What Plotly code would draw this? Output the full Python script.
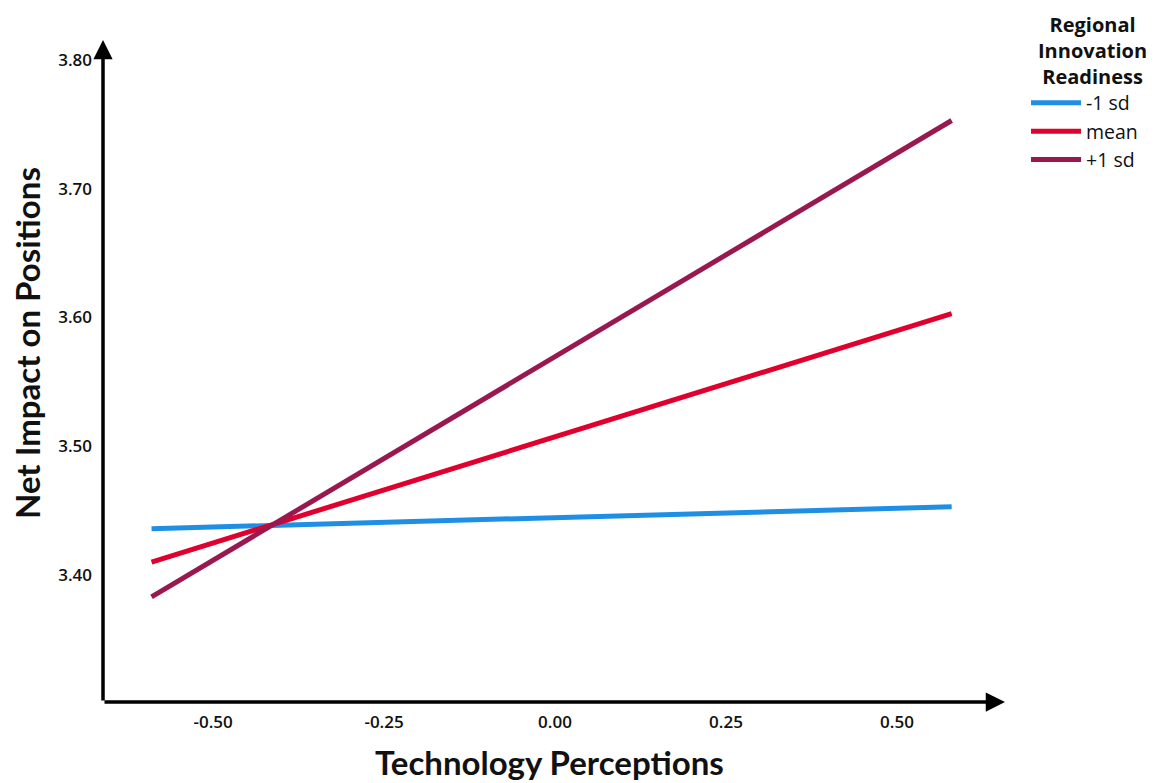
import plotly.graph_objects as go

x_ends = [-0.59, 0.58]
series_names = ["-1 sd", "mean", "+1 sd"]
series_values = [
    [3.436, 3.453],
    [3.410, 3.603],
    [3.383, 3.753],
]
colors = ["#1f8fe6", "#e0002d", "#9a1850"]
x_ticks = [-0.50, -0.25, 0.00, 0.25, 0.50]
x_tick_labels = ["-0.50", "-0.25", "0.00", "0.25", "0.50"]
y_ticks = [3.40, 3.50, 3.60, 3.70, 3.80]
y_tick_labels = ["3.40", "3.50", "3.60", "3.70", "3.80"]
legend_title_lines = ["Regional", "Innovation", "Readiness"]

XMIN, XMAX = -0.661, 0.658
YMIN, YMAX = 3.3014, 3.8155

# the page body has an 8px margin; figure is sized/placed to compensate
fig = go.Figure()
for name, vals, col in zip(series_names, series_values, colors):
    fig.add_trace(go.Scatter(x=x_ends, y=vals, mode="lines", name=name,
                             line=dict(color=col, width=5)))

title_font = "Lato, 'Noto Sans', sans-serif"
tick_font = "'Open Sans', 'Noto Sans', sans-serif"

fig.update_layout(
    width=1162, height=775,
    margin=dict(l=95, r=165, t=32, b=81),
    plot_bgcolor="white", paper_bgcolor="white",
    font=dict(family=tick_font, color="#111"),
    showlegend=True,
    legend=dict(x=1.0233, y=0.934, xanchor="left", yanchor="top",
                font=dict(size=19.5, color="#111", family=tick_font),
                tracegroupgap=0, itemwidth=50, bgcolor="rgba(0,0,0,0)"),
    xaxis=dict(range=[XMIN, XMAX], tickvals=x_ticks, ticktext=x_tick_labels,
               showgrid=False, zeroline=False, showline=False, ticks="",
               automargin=False, ticklabelstandoff=8,
               tickfont=dict(size=17, color="#111", family=tick_font, weight=600)),
    yaxis=dict(range=[YMIN, YMAX], tickvals=y_ticks, ticktext=y_tick_labels,
               showgrid=False, zeroline=False, showline=False, ticks="",
               automargin=False, ticklabelstandoff=10,
               tickfont=dict(size=17, color="#111", family=tick_font, weight=600)),
)

# axis lines with arrowheads
fig.add_annotation(x=XMIN, y=YMAX, ax=XMIN, ay=YMIN, xref="x", yref="y",
                   axref="x", ayref="y", text="", showarrow=True,
                   arrowhead=2, arrowsize=1.1, arrowwidth=3.5, arrowcolor="black")
fig.add_annotation(x=XMAX, y=YMIN, ax=XMIN, ay=YMIN, xref="x", yref="y",
                   axref="x", ayref="y", text="", showarrow=True,
                   arrowhead=2, arrowsize=1.1, arrowwidth=3.5, arrowcolor="black")

# axis titles (positions given in screen pixels relative to plot area)
fig.add_annotation(text="<b>Technology Perceptions</b>", xref="paper", yref="paper",
                   x=(549 - 103) / 902, y=-(762 - 702) / 662, xanchor="center",
                   yanchor="middle", showarrow=False,
                   font=dict(size=33, color="#111", family=title_font))
fig.add_annotation(text="<b>Net Impact on Positions</b>", xref="paper", yref="paper",
                   x=(27 - 103) / 902, y=(702 - 343) / 662, xanchor="center",
                   yanchor="middle", showarrow=False, textangle=-90,
                   font=dict(size=33, color="#111", family=title_font))

# legend title
fig.add_annotation(text="<br>".join("<b>" + s + "</b>" for s in legend_title_lines),
                   xref="paper", yref="paper", x=(1092 - 103) / 902,
                   y=1 + (40 - 9) / 662,
                   xanchor="center", yanchor="top", showarrow=False, align="center",
                   font=dict(size=20, color="#111", family=tick_font, weight=600))

fig.write_html("out.html")
